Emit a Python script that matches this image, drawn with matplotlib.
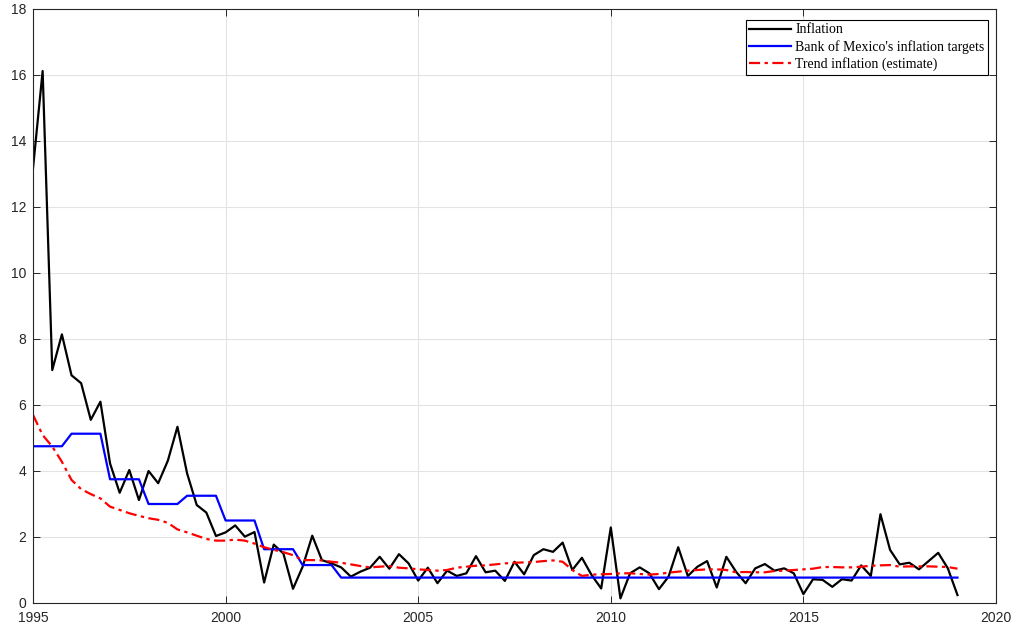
import numpy as np
import matplotlib.pyplot as plt

# quarterly data, 1995Q1 .. 2019Q1
start_year = 1995
inflation = [13.17, 16.12, 7.06, 8.14, 6.9, 6.66, 5.55, 6.1, 4.23, 3.34,
             4.03, 3.12, 4.0, 3.63, 4.31, 5.34, 3.93, 2.97, 2.74, 2.03,
             2.14, 2.35, 2.01, 2.15, 0.62, 1.77, 1.5, 0.43, 1.1, 2.04,
             1.3, 1.2, 1.08, 0.8, 0.95, 1.07, 1.4, 1.04, 1.48, 1.2,
             0.68, 1.07, 0.6, 0.98, 0.82, 0.9, 1.42, 0.93, 0.98, 0.67,
             1.25, 0.87, 1.45, 1.63, 1.55, 1.83, 1.0, 1.37, 0.85, 0.44,
             2.29, 0.14, 0.9, 1.08, 0.9, 0.42, 0.8, 1.69, 0.82, 1.1,
             1.27, 0.47, 1.4, 0.95, 0.6, 1.05, 1.18, 0.98, 1.05, 0.9,
             0.27, 0.72, 0.7, 0.49, 0.72, 0.68, 1.14, 0.82, 2.69, 1.61,
             1.17, 1.22, 1.02, 1.27, 1.52, 1.05, 0.24]

targets = ([4.75] * 4 + [5.13] * 4 + [3.75] * 4 + [3.0] * 4 + [3.25] * 4 +
           [2.5] * 4 + [1.63] * 4 + [1.15] * 4 + [0.77] * 65)

trend = [5.7, 5.09, 4.74, 4.28, 3.73, 3.45, 3.3, 3.17, 2.92, 2.82,
         2.72, 2.64, 2.57, 2.52, 2.43, 2.23, 2.14, 2.04, 1.94, 1.89,
         1.89, 1.92, 1.89, 1.8, 1.69, 1.61, 1.54, 1.45, 1.3, 1.3,
         1.29, 1.25, 1.22, 1.17, 1.12, 1.08, 1.1, 1.12, 1.07, 1.05,
         1.02, 1.0, 0.98, 1.0, 1.07, 1.1, 1.13, 1.14, 1.17, 1.2,
         1.22, 1.23, 1.24, 1.27, 1.29, 1.25, 1.0, 0.82, 0.86, 0.87,
         0.88, 0.9, 0.9, 0.88, 0.86, 0.88, 0.92, 0.95, 0.98, 1.0,
         1.02, 1.02, 1.0, 0.93, 0.94, 0.93, 0.93, 0.97, 0.98, 1.0,
         1.02, 1.04, 1.09, 1.09, 1.08, 1.08, 1.1, 1.13, 1.14, 1.15,
         1.1, 1.11, 1.11, 1.11, 1.1, 1.09, 1.04]

t = start_year + np.arange(len(inflation)) / 4.0

fig = plt.figure(figsize=(10.16, 6.26), dpi=100)
ax = fig.add_axes([33 / 1016, 23 / 626, 963 / 1016, 594 / 626])

ax.plot(t, inflation, color='black', lw=1.6, label='Inflation')
ax.plot(t, targets, color='#0000ff', lw=1.6, label="Bank of Mexico's inflation targets")
ax.plot(t, trend, color='#ff0000', lw=1.6, ls=(0, (5, 2, 1.5, 2)), label='Trend inflation (estimate)')

ax.set_xlim(1995, 2020)
ax.set_ylim(0, 18)
ax.set_xticks(range(1995, 2021, 5))
ax.set_yticks(range(0, 19, 2))
ax.grid(True, color='#e3e3e3', lw=0.8)
ax.set_axisbelow(True)
ax.tick_params(direction='in', top=True, right=True, length=5, width=0.7,
               colors='#262626', labelsize=10)
ax.tick_params(axis='x', pad=6)
ax.tick_params(axis='y', pad=5)
for lab in ax.get_xticklabels() + ax.get_yticklabels():
    lab.set_fontfamily('Liberation Sans')
for s in ax.spines.values():
    s.set_color('#262626')
    s.set_linewidth(0.8)

leg = ax.legend(loc='upper right', bbox_to_anchor=(0.9917, 0.9815), fancybox=False,
                framealpha=1, edgecolor='black', borderpad=0.25, labelspacing=0.25,
                handlelength=3.0, handletextpad=0.3, borderaxespad=0,
                prop={'family': 'Liberation Serif', 'size': 10})
leg.get_frame().set_linewidth(0.8)

fig.savefig('out.png', dpi=100)
